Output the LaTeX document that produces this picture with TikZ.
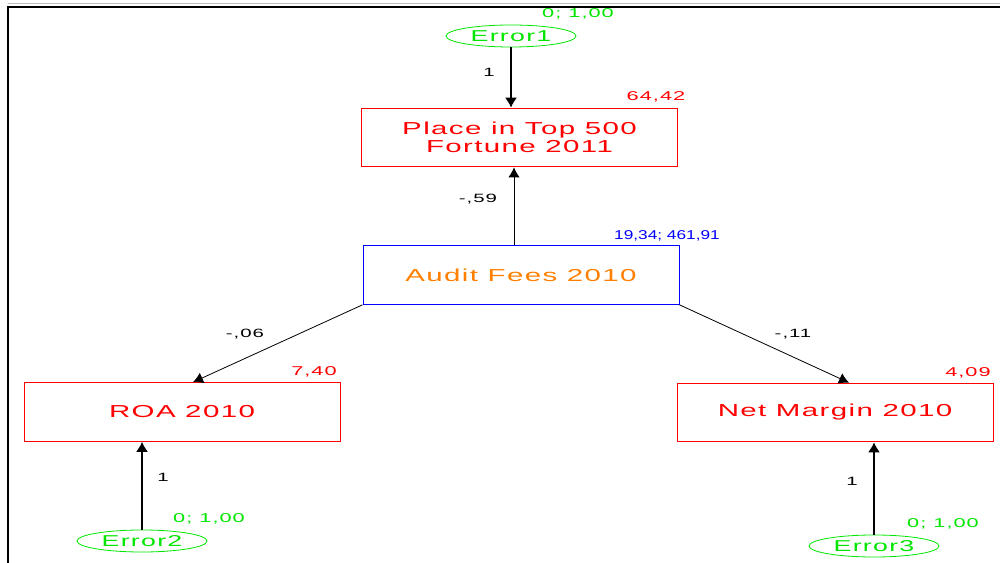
\documentclass[tikz,border=0pt]{standalone}
\usepackage{fontspec}
\newfontfamily\amosfont{Liberation Sans}[FakeStretch=1.7,LetterSpace=8]
\newfontfamily\amosnarrow{Liberation Sans}[FakeStretch=1.35]
\usetikzlibrary{arrows.meta,shapes.geometric}
\definecolor{obsred}{RGB}{255,0,0}
\definecolor{errgreen}{RGB}{0,230,0}
\definecolor{latblue}{RGB}{0,0,255}
\definecolor{latorange}{RGB}{255,128,0}

\begin{document}
\begin{tikzpicture}[x=0.75pt, y=-0.75pt,
  observed/.style={draw=obsred, line width=0.75pt, inner sep=0pt,
    minimum width=237pt, minimum height=44pt, align=center,
    text=obsred, font={\amosfont\fontsize{13}{13.5}\selectfont}},
  errvar/.style={draw=errgreen, ellipse, line width=0.6pt, inner sep=0pt,
    minimum width=97.5pt, minimum height=16.5pt,
    text=errgreen, font={\amosfont\fontsize{11.8}{12}\selectfont}},
  estim/.style={font={\amosfont\fontsize{9.6}{10}\selectfont}},
  weight/.style={font={\amosfont\fontsize{9}{10}\selectfont}, text=black},
  causal/.style={-{Latex[length=7.5pt,width=8.5pt]}, line width=0.6pt},
  errpath/.style={-{Latex[length=7.5pt,width=9pt]}, line width=1.1pt}]
\useasboundingbox (0,0) rectangle (1000,563);

% frame
\draw[gray!50, line width=0.6pt] (8,3) -- (1000,3);
\draw[line width=1.1pt] (1000,7) -- (8,7) -- (8,563);

% variables
\node[observed] at (519.5,137.5) (place) {Place in Top 500\\Fortune 2011};
\node[observed, draw=latblue, text=latorange] at (521,275) (audit) {Audit Fees 2010};
\node[observed] at (182,412) (roa) {ROA 2010};
\node[observed] at (835,412.5) (netm) {Net Margin 2010};

\node[errvar] at (511,36) (err1) {Error1};
\node[errvar] at (142,541) (err2) {Error2};
\node[errvar] at (874,546) (err3) {Error3};

% estimates
\node[estim, text=errgreen] at (578,14) (err1est) {0; 1,00};
\node[estim, text=errgreen] at (209,519) (err2est) {0; 1,00};
\node[estim, text=errgreen] at (943,524) (err3est) {0; 1,00};
\node[estim, text=obsred] at (656,97) (placeest) {64,42};
\node[estim, text=latblue, font={\amosnarrow\fontsize{9.6}{10}\selectfont}] at (667,236) (auditest) {19,34; 461,91};
\node[estim, text=obsred] at (314,372) (roaest) {7,40};
\node[estim, text=obsred] at (968,373) (netmest) {4,09};

% paths
\draw[errpath] (err1) -- (err1 |- place.north);
\draw[errpath] (err2) -- (err2 |- roa.south);
\draw[errpath] (err3) -- (err3 |- netm.south);
\draw[causal] ([xshift=-5.25pt]audit.north) -- ([xshift=-5.25pt]audit.north |- place.south);
\draw[causal] (audit.south west) -- ([xshift=8.25pt]roa.north);
\draw[causal] (audit.south east) -- ([xshift=10.5pt]netm.north);

% weights
\node[weight] at (489,72) (w1) {1};
\node[weight] at (163,477) (w2) {1};
\node[weight] at (852,481) (w3) {1};
\node[weight] at (478,199) (w4) {-,59};
\node[weight] at (245,334) (w5) {-,06};
\node[weight] at (793,334) (w6) {-,11};
\end{tikzpicture}
\end{document}
